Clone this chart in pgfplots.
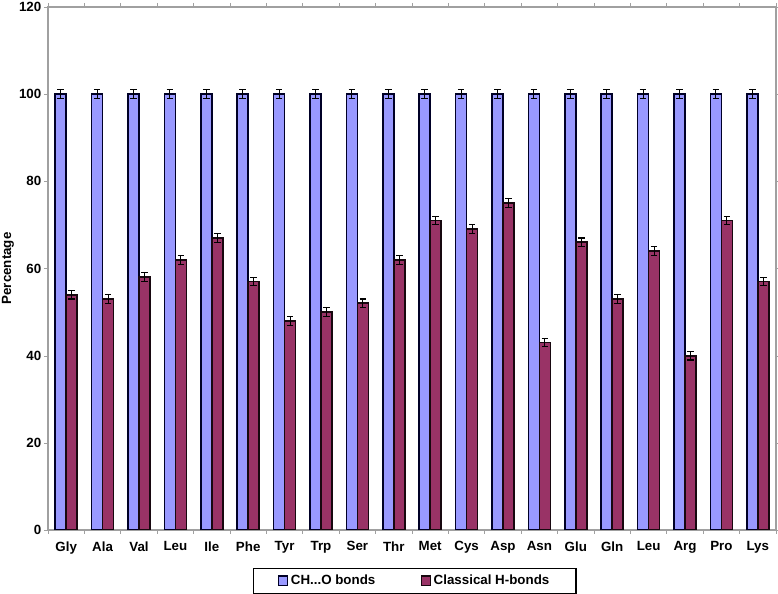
\documentclass[border=0pt]{standalone}
\usepackage{pgfplots}
\pgfplotsset{compat=1.18}
\usepackage{fontspec}
\setmainfont{Liberation Sans}
\definecolor{chb}{HTML}{9999FF}
\definecolor{clh}{HTML}{993366}
\definecolor{axgray}{HTML}{A0A0A0}
\begin{document}
\begin{tikzpicture}
\begin{axis}[
  scale only axis,
  width=546pt, height=392.25pt,
  ybar=0pt, bar width=8.25pt,
  xmin=-0.5, xmax=19.5,
  ymin=0, ymax=120,
  ytick={0,20,...,120},
  xtick={0,...,19},
  xticklabels={Gly,Ala,Val,Leu,Ile,Phe,Tyr,Trp,Ser,Thr,Met,Cys,Asp,Asn,Glu,Gln,Leu,Arg,Pro,Lys},
  minor xtick={-0.5,0.5,...,19.5},
  major x tick style={draw=none},
  minor x tick style={axgray, line width=0.6pt},
  minor tick length=3pt,
  y tick style={axgray},
  major tick length=3pt,
  tick align=outside,
  axis line style={axgray, line width=1pt},
  every tick label/.append style={font=\fontsize{10}{12}\selectfont\bfseries},
  /pgf/number format/assume math mode=true,
  xticklabel style={yshift=-2pt},
  yticklabel style={xshift=1.5pt},
  ylabel={\fontsize{10}{12}\selectfont\bfseries Percentage},
  ylabel style={yshift=-3pt},
  legend columns=2,
  legend style={at={(0.504,-0.072)}, anchor=north, draw=black, line width=0.8pt,
    font=\fontsize{10}{12}\selectfont\bfseries,
    /tikz/every even column/.append style={column sep=32pt},
    inner xsep=18pt, inner ysep=3pt},
  legend image code/.code={\draw[#1, line width=0.8pt] (0pt,-3.5pt) rectangle (7pt,3.5pt);},
  error bars/error bar style={black, line width=0.8pt},
  error bars/error mark options={rotate=90, mark size=2.5pt, line width=0.8pt, black},
]
\addplot[fill=chb, draw=black!85!blue, line width=1.3pt,
  error bars/.cd, y dir=both, y explicit]
  coordinates {
  (0,100) +- (0,1) (1,100) +- (0,1) (2,100) +- (0,1) (3,100) +- (0,1) (4,100) +- (0,1)
  (5,100) +- (0,1) (6,100) +- (0,1) (7,100) +- (0,1) (8,100) +- (0,1) (9,100) +- (0,1)
  (10,100) +- (0,1) (11,100) +- (0,1) (12,100) +- (0,1) (13,100) +- (0,1) (14,100) +- (0,1)
  (15,100) +- (0,1) (16,100) +- (0,1) (17,100) +- (0,1) (18,100) +- (0,1) (19,100) +- (0,1)
  };
\addlegendentry{CH{.}{.}{.}O bonds}
\addplot[fill=clh, draw=black!85!clh, line width=1.3pt,
  error bars/.cd, y dir=both, y explicit]
  coordinates {
  (0,54) +- (0,1) (1,53) +- (0,1) (2,58) +- (0,1) (3,62) +- (0,1) (4,67) +- (0,1)
  (5,57) +- (0,1) (6,48) +- (0,1) (7,50) +- (0,1) (8,52) +- (0,1) (9,62) +- (0,1)
  (10,71) +- (0,1) (11,69) +- (0,1) (12,75) +- (0,1) (13,43) +- (0,1) (14,66) +- (0,1)
  (15,53) +- (0,1) (16,64) +- (0,1) (17,40) +- (0,1) (18,71) +- (0,1) (19,57) +- (0,1)
  };
\addlegendentry{Classical H-bonds}
\end{axis}
\pgfresetboundingbox
\path ([xshift=-36pt,yshift=-48pt]current axis.south west) rectangle ([xshift=1.5pt,yshift=5.25pt]current axis.north east);
\end{tikzpicture}
\end{document}
